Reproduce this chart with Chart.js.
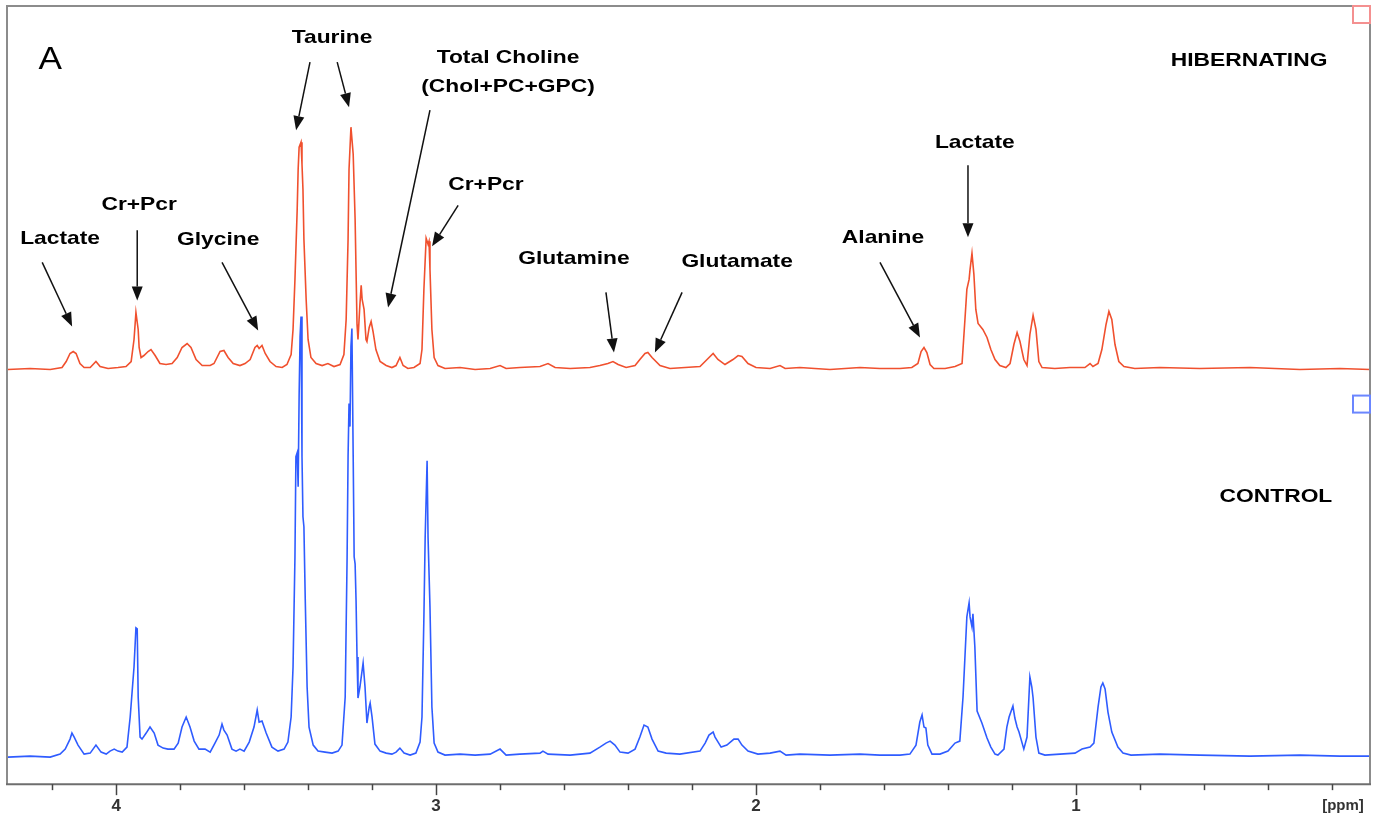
<!DOCTYPE html>
<html>
<head>
<meta charset="utf-8">
<script src="https://cdn.jsdelivr.net/npm/chart.js@4.4.1/dist/chart.umd.min.js"></script>
<style>
html, body { margin: 0; padding: 0; background: #fff; }
</style>
</head>
<body>
<canvas id="nmr" width="1380" height="818"></canvas>
<script>
// spectra: [ppm, intensity above baseline]
const hibernating = [
  [4.338,0],[4.269,1],[4.206,0],[4.169,2],[4.156,8],[4.144,16],[4.134,18],[4.125,16],[4.113,6],[4.100,2],[4.081,2],[4.063,8],[4.050,3],[4.025,1],
  [3.994,2],[3.969,3],[3.953,8],[3.944,30],[3.938,57],[3.931,40],[3.928,22],[3.922,12],[3.913,14],[3.900,18],[3.891,20],[3.878,14],[3.863,6],
  [3.844,5],[3.825,6],[3.809,12],[3.794,22],[3.778,26],[3.766,22],[3.750,10],[3.731,4],[3.706,4],[3.694,6],[3.675,18],[3.663,19],[3.650,12],
  [3.634,6],[3.613,4],[3.597,6],[3.581,10],[3.566,22],[3.559,24],[3.553,21],[3.544,24],[3.534,16],[3.519,8],[3.500,3],[3.481,2],[3.466,5],
  [3.453,15],[3.447,40],[3.441,90],[3.434,160],[3.431,200],[3.428,222],[3.422,227],[3.419,205],[3.416,180],[3.413,130],[3.406,70],[3.400,30],
  [3.391,12],[3.375,6],[3.356,4],[3.338,6],[3.319,3],[3.300,5],[3.288,15],[3.281,50],[3.275,130],[3.272,200],[3.266,242],[3.259,215],[3.253,150],
  [3.247,45],[3.244,30],[3.238,65],[3.234,84],[3.231,70],[3.225,60],[3.219,30],[3.216,28],[3.209,42],[3.203,48],[3.197,38],[3.188,20],[3.175,8],
  [3.156,4],[3.138,2],[3.125,4],[3.113,12],[3.103,4],[3.088,1],[3.069,2],[3.050,6],[3.044,20],[3.038,80],[3.031,131],[3.025,125],[3.022,128],
  [3.019,100],[3.013,40],[3.006,12],[2.994,4],[2.972,1],[2.925,2],[2.878,0],[2.831,1],[2.800,4],[2.781,1],[2.738,2],[2.675,3],[2.650,6],[2.628,2],
  [2.581,1],[2.519,2],[2.488,4],[2.463,6],[2.447,8],[2.431,5],[2.406,2],[2.378,4],[2.363,10],[2.347,16],[2.338,17],[2.325,12],[2.300,4],[2.269,1],
  [2.222,2],[2.175,3],[2.153,10],[2.134,16],[2.119,10],[2.097,5],[2.072,10],[2.056,14],[2.044,13],[2.025,6],[2.000,2],[1.956,1],[1.925,4],[1.909,1],
  [1.863,2],[1.769,0],[1.675,2],[1.613,1],[1.550,1],[1.513,2],[1.494,6],[1.484,18],[1.475,22],[1.466,17],[1.456,5],[1.444,1],[1.409,1],[1.378,3],
  [1.356,6],[1.347,50],[1.341,80],[1.334,90],[1.331,100],[1.325,116],[1.319,95],[1.313,60],[1.306,46],[1.291,40],[1.278,32],[1.266,20],[1.253,10],
  [1.238,4],[1.219,2],[1.206,6],[1.194,25],[1.184,37],[1.175,28],[1.163,10],[1.153,4],[1.144,35],[1.134,54],[1.125,40],[1.116,8],[1.106,2],
  [1.066,1],[1.019,2],[0.972,2],[0.956,6],[0.947,3],[0.931,6],[0.919,20],[0.906,45],[0.897,58],[0.888,50],[0.878,25],[0.866,8],[0.850,3],
  [0.816,1],[0.738,2],[0.613,1],[0.456,2],[0.300,0],[0.175,1],[0.081,0]
];

const control = [
  [4.338,0],[4.269,1],[4.206,0],[4.175,3],[4.159,8],[4.144,18],[4.138,24],[4.131,20],[4.119,12],[4.100,3],[4.081,4],[4.063,12],[4.047,5],[4.031,3],
  [4.019,6],[4.006,8],[3.994,6],[3.981,5],[3.966,10],[3.956,40],[3.944,90],[3.938,129],[3.934,128],[3.931,60],[3.925,20],[3.919,18],[3.906,24],
  [3.894,30],[3.881,24],[3.869,12],[3.853,9],[3.838,8],[3.819,8],[3.806,14],[3.794,30],[3.781,40],[3.769,30],[3.756,16],[3.741,8],[3.722,8],
  [3.706,5],[3.691,14],[3.678,22],[3.669,33],[3.663,27],[3.653,22],[3.638,8],[3.625,6],[3.613,8],[3.600,6],[3.584,15],[3.569,30],[3.559,47],
  [3.553,35],[3.544,36],[3.531,24],[3.513,10],[3.494,6],[3.475,8],[3.463,15],[3.453,40],[3.447,90],[3.441,200],[3.438,300],[3.434,304],[3.431,270],
  [3.428,360],[3.425,420],[3.422,440],[3.419,300],[3.416,240],[3.413,230],[3.409,160],[3.403,70],[3.397,30],[3.384,12],[3.369,6],[3.347,5],
  [3.325,4],[3.306,6],[3.294,12],[3.284,60],[3.278,200],[3.275,300],[3.272,353],[3.269,330],[3.266,410],[3.263,428],[3.259,300],[3.256,200],
  [3.253,193],[3.250,156],[3.247,100],[3.244,59],[3.238,70],[3.228,94],[3.222,70],[3.216,34],[3.209,50],[3.206,54],[3.200,40],[3.191,13],
  [3.175,6],[3.156,4],[3.138,3],[3.125,5],[3.113,9],[3.100,4],[3.081,2],[3.063,4],[3.050,15],[3.044,40],[3.038,140],[3.034,220],[3.028,296],
  [3.025,219],[3.019,150],[3.013,50],[3.006,14],[2.994,5],[2.972,2],[2.925,3],[2.878,2],[2.831,3],[2.800,8],[2.781,2],[2.738,3],[2.675,4],
  [2.666,6],[2.650,3],[2.581,2],[2.519,4],[2.488,10],[2.469,14],[2.456,16],[2.441,12],[2.425,5],[2.400,4],[2.378,8],[2.363,20],[2.350,32],
  [2.338,30],[2.325,18],[2.306,6],[2.281,4],[2.238,3],[2.175,6],[2.159,14],[2.147,22],[2.134,25],[2.128,20],[2.109,10],[2.091,12],[2.069,18],
  [2.056,18],[2.044,12],[2.025,6],[1.994,3],[1.956,4],[1.925,6],[1.906,2],[1.863,3],[1.769,2],[1.675,3],[1.613,2],[1.550,2],[1.519,3],[1.500,12],
  [1.488,35],[1.481,42],[1.475,30],[1.469,29],[1.463,12],[1.450,3],[1.425,3],[1.400,6],[1.378,14],[1.363,16],[1.353,60],[1.347,100],[1.341,140],
  [1.334,154],[1.331,140],[1.325,130],[1.322,143],[1.316,110],[1.309,46],[1.294,34],[1.278,19],[1.266,10],[1.253,3],[1.244,2],[1.225,8],[1.216,30],
  [1.209,40],[1.197,51],[1.191,39],[1.184,30],[1.178,25],[1.163,8],[1.153,20],[1.147,60],[1.144,80],[1.138,70],[1.134,59],[1.125,20],[1.116,4],
  [1.097,2],[1.050,3],[1.003,4],[0.981,8],[0.956,10],[0.944,14],[0.931,50],[0.922,70],[0.916,74],[0.909,68],[0.900,45],[0.888,25],[0.869,10],
  [0.853,4],[0.828,2],[0.738,3],[0.613,2],[0.456,1],[0.300,2],[0.175,1],[0.081,1]
];

// peak labels: text, ppm, level (in hibernating trace units)
const peakLabels = [
  ['Lactate', 4.175, 131], ['Cr+Pcr', 3.928, 165], ['Glycine', 3.681, 130],
  ['Taurine', 3.325, 331], ['Total Choline', 2.775, 311], ['(Chol+PC+GPC)', 2.775, 282],
  ['Cr+Pcr', 2.844, 184], ['Glutamine', 2.569, 111], ['Glutamate', 2.059, 108],
  ['Alanine', 1.603, 132], ['Lactate', 1.316, 226], ['HIBERNATING', 0.459, 308],
  ['CONTROL', 0.375, -127]
];
// arrows: [ppm from, level from, ppm to, level to]
const peakArrows = [
  [4.231, 107, 4.1375, 43], [3.934, 139, 3.934, 69], [3.669, 107, 3.556, 39],
  [3.394, 307, 3.4375, 239], [3.309, 307, 3.272, 262], [3.019, 259, 3.15, 62],
  [2.931, 164, 3.0125, 123], [2.469, 77, 2.444, 17], [2.231, 77, 2.316, 17],
  [1.6125, 107, 1.4875, 32], [1.3375, 204, 1.3375, 132]
];
const panelLetter = ['A', 4.206, 309];

const RED = '#f0502e';
const BLUE = '#2f5cff';
const SX = 1.2; // figure text is stretched horizontally

function drawText(ctx, txt, x, y, font, sx) {
  ctx.save();
  ctx.translate(x, y);
  ctx.scale(sx, 1);
  ctx.font = font;
  ctx.fillStyle = '#000';
  ctx.textAlign = 'center';
  ctx.textBaseline = 'middle';
  ctx.fillText(txt, 0, 0);
  ctx.restore();
}

function drawArrow(ctx, x1, y1, x2, y2) {
  const ang = Math.atan2(y2 - y1, x2 - x1);
  const hl = 14, hw = 5.5;
  const bx = x2 - hl * Math.cos(ang), by = y2 - hl * Math.sin(ang);
  ctx.beginPath();
  ctx.moveTo(x1, y1);
  ctx.lineTo(bx, by);
  ctx.strokeStyle = '#111';
  ctx.lineWidth = 1.5;
  ctx.stroke();
  ctx.beginPath();
  ctx.moveTo(x2, y2);
  ctx.lineTo(bx + hw * Math.sin(ang), by - hw * Math.cos(ang));
  ctx.lineTo(bx - hw * Math.sin(ang), by + hw * Math.cos(ang));
  ctx.closePath();
  ctx.fillStyle = '#111';
  ctx.fill();
}

const decor = {
  id: 'decor',
  afterDatasetsDraw(chart) {
    const ctx = chart.ctx;
    const a = chart.chartArea;
    const xs = chart.scales.x, yR = chart.scales.yR, yB = chart.scales.yB;

    // frame
    ctx.save();
    ctx.strokeStyle = '#8c8c8c';
    ctx.lineWidth = 2;
    ctx.beginPath();
    ctx.moveTo(a.left, a.bottom);
    ctx.lineTo(a.left, a.top);
    ctx.lineTo(a.right, a.top);
    ctx.lineTo(a.right, a.bottom);
    ctx.stroke();
    ctx.strokeStyle = '#6e6e6e';
    ctx.beginPath();
    ctx.moveTo(a.left - 1, a.bottom);
    ctx.lineTo(a.right + 1, a.bottom);
    ctx.stroke();

    // ticks
    ctx.strokeStyle = '#444';
    ctx.lineWidth = 1.5;
    for (let v = 0.2; v < 4.35; v += 0.2) {
      const px = Math.round(xs.getPixelForValue(v)) + 0.5;
      const major = Math.abs(v - Math.round(v)) < 1e-6;
      ctx.beginPath();
      ctx.moveTo(px, a.bottom);
      ctx.lineTo(px, a.bottom + (major ? 11 : 6));
      ctx.stroke();
    }
    ctx.font = 'bold 15px "Liberation Sans", Arial, sans-serif';
    ctx.fillStyle = '#333';
    ctx.textAlign = 'center';
    ctx.textBaseline = 'middle';
    ctx.fillText('[ppm]', a.right - 27, a.bottom + 22);

    // trace markers
    ctx.lineWidth = 2;
    ctx.strokeStyle = '#f49090';
    ctx.strokeRect(a.right - 17, yR.getPixelForValue(yR.max), 17, 17);
    ctx.strokeStyle = '#6b86ff';
    ctx.strokeRect(a.right - 17, yB.getPixelForValue(361), 17, 17);

    // labels and arrows
    peakArrows.forEach(r => {
      drawArrow(ctx, xs.getPixelForValue(r[0]), yR.getPixelForValue(r[1]),
                     xs.getPixelForValue(r[2]), yR.getPixelForValue(r[3]));
    });
    peakLabels.forEach(l => {
      drawText(ctx, l[0], xs.getPixelForValue(l[1]), yR.getPixelForValue(l[2]),
               'bold 19px "Liberation Sans", Arial, sans-serif', SX);
    });
    drawText(ctx, panelLetter[0], xs.getPixelForValue(panelLetter[1]), yR.getPixelForValue(panelLetter[2]),
             '32px "Liberation Sans", Arial, sans-serif', 1.1);
    ctx.restore();
  }
};

new Chart(document.getElementById('nmr'), {
  type: 'line',
  data: {
    datasets: [
      {
        label: 'CONTROL',
        data: control.map(p => ({ x: p[0], y: p[1] })),
        yAxisID: 'yB',
        borderColor: BLUE,
        borderWidth: 1.6,
        pointRadius: 0,
        tension: 0
      },
      {
        label: 'HIBERNATING',
        data: hibernating.map(p => ({ x: p[0], y: p[1] })),
        yAxisID: 'yR',
        borderColor: RED,
        borderWidth: 1.6,
        pointRadius: 0,
        tension: 0
      }
    ]
  },
  options: {
    responsive: false,
    animation: false,
    devicePixelRatio: 1,
    layout: { padding: { left: 7, right: 10, top: 6, bottom: 0 } },
    plugins: { legend: { display: false }, tooltip: { enabled: false } },
    scales: {
      x: {
        type: 'linear',
        reverse: true,
        min: 0.081,
        max: 4.341,
        border: { display: false },
        grid: { display: true, drawOnChartArea: false, color: 'rgba(0,0,0,0)', tickLength: 10 },
        ticks: {
          stepSize: 0.2,
          autoSkip: false,
          maxRotation: 0,
          padding: 3,
          color: '#333',
          font: { family: '"Liberation Sans", Arial, sans-serif', size: 17, weight: 'bold', lineHeight: 1.05 },
          callback: v => (Math.abs(v - Math.round(v)) < 1e-6 && v > 0.5 ? String(Math.round(v)) : '')
        }
      },
      yR: { type: 'linear', display: false, min: -414, max: 363 },
      yB: { type: 'linear', display: false, min: -27, max: 750 }
    }
  },
  plugins: [decor]
});
</script>
</body>
</html>
